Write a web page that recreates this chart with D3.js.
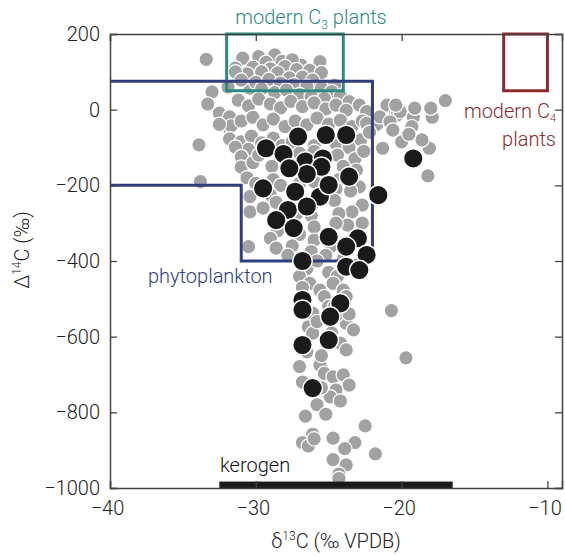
<!DOCTYPE html>
<html><head><meta charset="utf-8">
<script src="https://cdn.jsdelivr.net/npm/d3@7"></script>
<style>
body{margin:0;background:#fff;}
text{font-family:Roboto,"Helvetica Neue",Arial,sans-serif;font-weight:300;}
</style></head>
<body><svg id="c" width="565" height="556"></svg>
<script>
const xTicks=[-40,-30,-20,-10];
const yTicks=[200,0,-200,-400,-600,-800,-1000];
const greyPoints=[
[-30.9,136],[-29.8,140],[-28.7,145],[-26.9,118],[-25.6,127],[-33.4,133],[-28.2,128],[-29.3,125],[-27.5,132],
[-31.4,110],[-30.2,112],[-29.0,108],[-28.0,114],[-27.2,106],[-26.3,104],[-25.5,98],[-30.6,95],[-29.6,100],[-28.5,97],[-27.7,84],[-26.8,86],[-26.1,78],[-24.6,65],[-30.4,57],[-31.4,100],
[-31.0,78],[-30.0,72],[-29.1,80],[-28.3,70],[-27.4,66],[-26.5,62],[-25.5,58],[-24.8,48],[-29.6,55],[-28.7,45],[-27.9,52],[-27.0,40],[-26.2,35],[-25.3,30],[-24.2,36],[-23.6,21],[-22.9,12],[-33.0,47],[-31.9,60],
[-33.3,15],[-32.5,-9],[-31.8,-19],[-31.2,25],[-30.5,10],[-29.8,28],[-29.0,15],[-28.3,5],[-27.6,22],[-26.8,8],[-26.0,18],[-25.2,2],[-24.5,12],[-23.8,-2],[-22.4,-5],[-21.0,12],[-20.4,-9],[-20.3,-14],[-19.2,-20],[-17.9,-20],[-17.0,24],[-18.0,4],[-19.1,4],[-20.1,-5],[-20.4,12],
[-31.8,-51],[-31.7,-43],[-32.5,-39],[-31.0,-30],[-30.2,-20],[-29.5,-40],[-28.8,-25],[-28.0,-45],[-27.3,-30],[-26.5,-40],[-25.8,-22],[-25.0,-38],[-24.2,-28],[-23.4,-45],[-22.7,-30],[-21.7,-39],[-21.5,-19],[-22.4,-36],[-20.8,-32],[-19.3,-45],[-20.6,-54],[-20.0,-85],[-21.3,-102],[-18.1,-102],[-18.2,-175],[-19.5,-65],[-18.6,-80],
[-31.8,-77],[-33.9,-93],[-31.0,-85],[-30.3,-70],[-29.6,-88],[-28.8,-75],[-28.2,-95],[-27.5,-85],[-26.0,-95],[-24.5,-90],[-23.6,-100],[-22.8,-80],[-22.2,-60],[-30.5,-105],
[-31.4,-99],[-31.0,-124],[-31.0,-152],[-30.2,-140],[-29.8,-120],[-28.9,-150],[-27.0,-115],[-24.4,-120],[-23.2,-130],[-22.6,-110],[-24.0,-150],[-23.1,-160],[-28.0,-135],[-26.0,-110],
[-33.8,-190],[-30.6,-180],[-30.0,-195],[-28.8,-185],[-28.3,-200],[-27.0,-195],[-26.0,-190],[-24.3,-185],[-22.9,-204],[-23.5,-215],[-24.5,-210],[-30.4,-230],[-29.0,-225],[-28.6,-245],[-26.0,-245],[-24.6,-240],[-22.7,-252],[-23.4,-270],[-24.3,-275],[-26.2,-280],[-30.4,-270],[-29.5,-260],[-27.2,-275],
[-22.7,-300],[-23.7,-305],[-24.5,-300],[-26.0,-310],[-28.5,-320],[-29.0,-340],[-27.0,-330],[-26.0,-345],[-24.8,-360],[-30.5,-362],[-28.6,-366],[-27.5,-360],[-26.2,-375],[-25.2,-385],[-24.0,-395],[-27.8,-385],[-26.5,-420],[-25.8,-400],[-25.0,-430],[-24.4,-440],
[-27.0,-441],[-26.3,-459],[-25.6,-477],[-24.7,-459],[-24.0,-477],[-23.8,-494],[-25.3,-494],[-26.1,-538],[-23.8,-565],[-23.3,-582],[-26.4,-574],[-26.1,-591],[-24.2,-617],[-23.8,-635],[-27.0,-679],[-25.6,-675],[-25.3,-697],[-24.7,-706],[-24.0,-701],[-23.6,-728],[-24.5,-741],[-24.9,-759],
[-26.8,-470],[-25.0,-520],[-24.5,-545],[-25.8,-560],[-24.8,-590],[-26.5,-640],[-25.5,-650],[-26.8,-720],[-25.5,-735],[-24.2,-770],[-25.8,-780],[-24.6,-520],[-23.6,-540],
[-26.6,-810],[-25.2,-805],[-22.5,-836],[-26.1,-858],[-26.8,-880],[-26.4,-889],[-26.0,-870],[-24.7,-868],[-23.2,-880],[-23.9,-896],[-21.8,-910],[-24.7,-925],[-23.8,-939],[-24.3,-963],[-24.3,-975],[-20.7,-531],[-19.7,-656]
];
const blackPoints=[
[-27.1,-71],[-25.2,-67],[-23.8,-67],[-29.3,-102],[-28.1,-117],[-26.6,-137],[-25.4,-129],[-25.5,-151],[-26.5,-170],[-27.7,-155],[-23.6,-177],[-29.5,-208],[-27.3,-217],[-25.6,-230],[-25.0,-199],[-21.6,-226],[-27.8,-265],[-26.5,-256],[-28.6,-292],[-27.4,-313],[-25.0,-336],[-23.0,-340],[-23.8,-362],[-22.4,-384],[-26.8,-400],[-23.8,-415],[-22.9,-424],[-26.8,-503],[-26.8,-529],[-24.2,-512],[-24.9,-547],[-26.8,-622],[-25.0,-609],[-26.1,-736],[-19.2,-129]
];
const c3Box={x:[-32,-24],y:[50,200]};
const c4Box={x:[-13,-10],y:[50,200]};
const phytoOutline=[[-40,75],[-22,75],[-22,-400],[-31,-400],[-31,-200],[-40,-200]];
const kerogenRange=[-32.5,-16.5];

const W=565,H=556,m={l:110,t:34,r:3,b:68};
const svg=d3.select("#c");
const x=d3.scaleLinear().domain([-40,-9]).range([m.l,W-m.r]);
const y=d3.scaleLinear().domain([-1000,200]).range([H-m.b,m.t]);
const axisCol="#444";

// grey points
svg.append("g").selectAll("circle").data(greyPoints).join("circle")
 .attr("cx",d=>x(d[0])).attr("cy",d=>y(d[1])).attr("r",7.2)
 .attr("fill","#a2a2a2").attr("stroke","#fff").attr("stroke-width",1.2);

// boxes
svg.append("rect").attr("x",x(c3Box.x[0])).attr("y",y(c3Box.y[1])).attr("width",x(c3Box.x[1])-x(c3Box.x[0])).attr("height",y(c3Box.y[0])-y(c3Box.y[1]))
 .attr("fill","none").attr("stroke","#2b8b83").attr("stroke-width",3);
svg.append("rect").attr("x",x(c4Box.x[0])).attr("y",y(c4Box.y[1])).attr("width",x(c4Box.x[1])-x(c4Box.x[0])).attr("height",y(c4Box.y[0])-y(c4Box.y[1]))
 .attr("fill","none").attr("stroke","#8c2a30").attr("stroke-width",3);
svg.append("path").attr("d",d3.line().x(d=>x(d[0])).y(d=>y(d[1]))(phytoOutline))
 .attr("fill","none").attr("stroke","#2f3e7e").attr("stroke-width",3);

// black points
svg.append("g").selectAll("circle").data(blackPoints).join("circle")
 .attr("cx",d=>x(d[0])).attr("cy",d=>y(d[1])).attr("r",9.8)
 .attr("fill","#1a1a1a").attr("stroke","#fff").attr("stroke-width",1.5);

// kerogen bar
svg.append("rect").attr("x",x(kerogenRange[0])).attr("width",x(kerogenRange[1])-x(kerogenRange[0]))
 .attr("y",y(-983)).attr("height",y(-1000)-y(-983)).attr("fill","#1a1a1a");

// axes
const fs=20;
const gB=svg.append("g").attr("transform",`translate(0,${y(-1000)})`).call(d3.axisBottom(x).tickValues(xTicks).tickSize(-7).tickPadding(13).tickFormat(d3.format("d")));
const gT=svg.append("g").attr("transform",`translate(0,${y(200)})`).call(d3.axisTop(x).tickValues(xTicks).tickSize(-7).tickFormat(""));
const gL=svg.append("g").attr("transform",`translate(${x(-40)},0)`).call(d3.axisLeft(y).tickValues(yTicks).tickSize(-7).tickPadding(10).tickFormat(d3.format("d")));
const gR=svg.append("g").attr("transform",`translate(${x(-9)},0)`).call(d3.axisRight(y).tickValues(yTicks).tickSize(-7).tickFormat(""));
[gB,gT,gL,gR].forEach(g=>{
  g.select(".domain").attr("stroke",axisCol).attr("stroke-width",1.5);
  g.selectAll(".tick line").attr("stroke",axisCol).attr("stroke-width",1.3);
  g.selectAll(".tick text").attr("fill","#222").style("font-size",fs+"px").style("font-family","Roboto").style("font-weight",300);
});
gB.selectAll(".tick text").attr("dx","-3");

// labels
function lbl(t,xp,yp,col,anchor){return svg.append("text").attr("x",xp).attr("y",yp).attr("fill",col).attr("text-anchor",anchor||"start").style("font-size",fs+"px");}
let t=lbl("",311,24,"#2b8b83","middle");
t.append("tspan").text("modern C");t.append("tspan").text("3").style("font-size","12px").attr("dy",5);t.append("tspan").text(" plants").attr("dy",-5);
t=lbl("",556,118,"#8c2a30","end");
t.append("tspan").text("modern C");t.append("tspan").text("4").style("font-size","11px").attr("dy",4);
lbl("",556,146,"#8c2a30","end").text("plants");
lbl("",148,283,"#2f3e7e").text("phytoplankton");
lbl("",220,472,"#111").text("kerogen");

// axis titles
t=lbl("",336,548,"#222","middle");
t.append("tspan").text("δ");t.append("tspan").text("13").style("font-size","12px").attr("dy",-8);t.append("tspan").text("C (‰ VPDB)").attr("dy",8);
t=svg.append("text").attr("transform",`translate(29,250) rotate(-90)`).attr("text-anchor","middle").attr("fill","#222").style("font-size",fs+"px");
t.append("tspan").text("Δ");t.append("tspan").text("14").style("font-size","12px").attr("dy",-8);t.append("tspan").text("C (‰)").attr("dy",8);
</script></body></html>
